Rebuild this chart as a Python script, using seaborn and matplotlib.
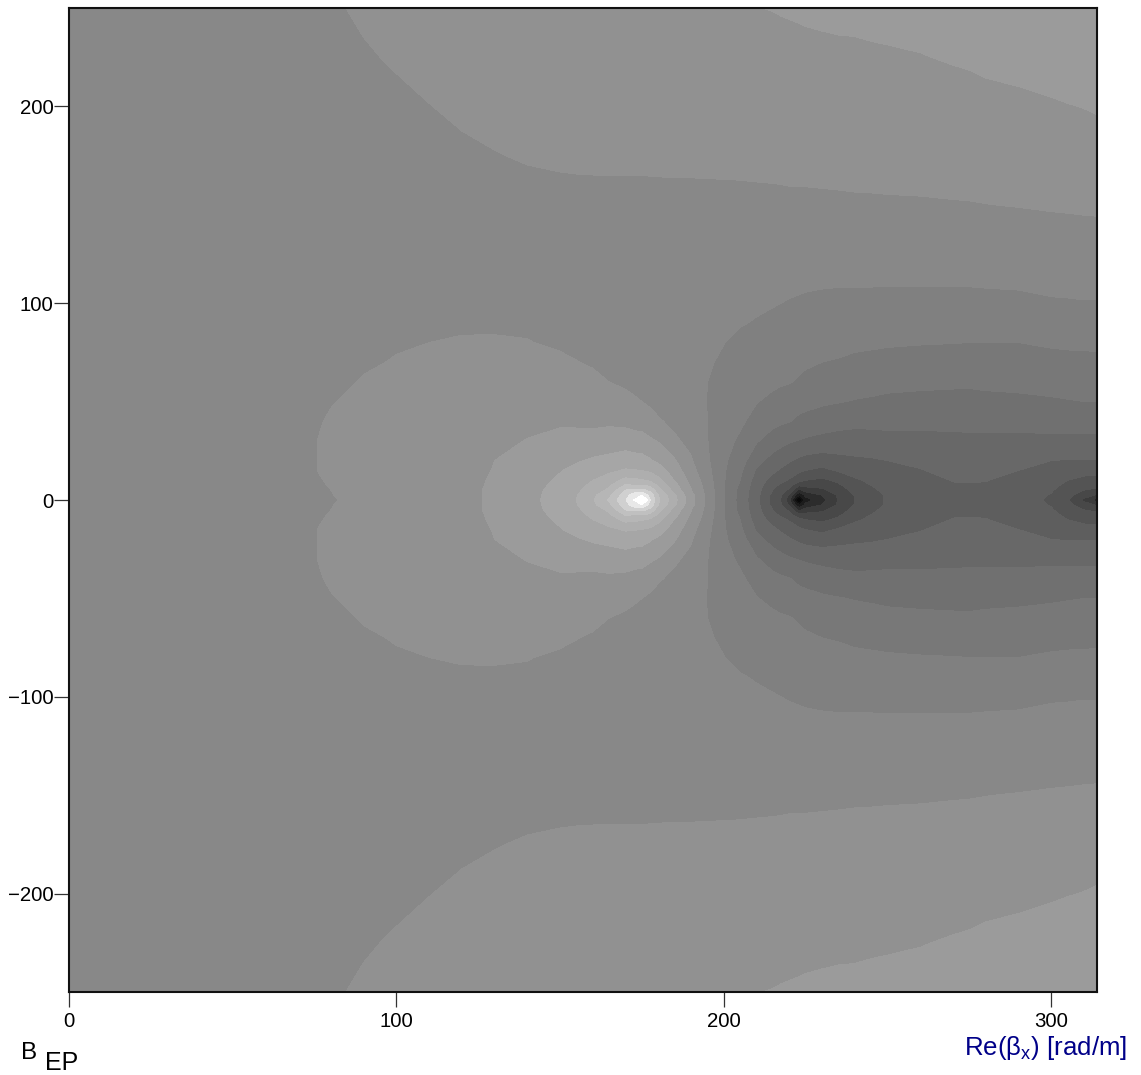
import numpy as np
import pandas as pd
import matplotlib
matplotlib.use("Agg")
import matplotlib.pyplot as plt
import seaborn as sns

# ---------------------------
# Data: band level per Re(beta) column, Im from 0 up to 250
# ---------------------------
im_beta = [0, 2.5, 5, 7.5, 10, 15, 20, 30, 40, 50, 60, 70, 80, 90, 100, 110, 125, 150, 175, 200, 225, 250]

g000 = [-.3, -.3, -.3, -.3, -.3, -.3, -.3, -.3, -.3, -.3, -.3, -.3, -.3, -.3, -.3, -.3, -.3, -.3, -.3, -.3, -.3, -.3]
g030 = [-.2, -.2, -.2, -.2, -.2, -.2, -.2, -.2, -.2, -.2, -.2, -.2, -.2, -.2, -.2, -.2, -.2, -.2, -.2, -.2, -.2, -.2]
g060 = [.05, .05, .05, .05, .05, .05, .05, .05, .05, .03, .02, 0, 0, 0, 0, 0, 0, 0, .02, .05, .1, .2]
g080 = [.45, .48, .5, .53, .56, .62, .62, .62, .56, .47, .32, .2, .15, .1, .1, .1, .1, .12, .15, .2, .3, .45]
g090 = [.69, .7, .72, .74, .75, .78, .8, .8, .72, .65, .55, .42, .35, .3, .27, .25, .25, .27, .3, .36, .46, .56]
g100 = [.89, .89, .9, .9, .91, .92, .92, .9, .84, .76, .66, .54, .44, .38, .33, .3, .27, .29, .33, .42, .54, .68]
g110 = [1.12, 1.12, 1.12, 1.12, 1.12, 1.1, 1.08, 1.0, .93, .83, .72, .6, .5, .42, .36, .32, .28, .3, .38, .49, .65, .8]
g120 = [1.34, 1.34, 1.34, 1.32, 1.3, 1.25, 1.2, 1.08, .98, .87, .75, .63, .53, .45, .38, .34, .29, .32, .42, .58, .75, .9]
g130 = [1.6, 1.6, 1.6, 1.58, 1.57, 1.53, 1.5, 1.3, 1.1, .95, .8, .67, .54, .44, .37, .33, .3, .36, .48, .66, .82, .96]
g140 = [2.18, 2.17, 2.15, 2.1, 2.05, 1.9, 1.75, 1.53, 1.3, 1.08, .88, .7, .52, .42, .35, .31, .3, .33, .54, .72, .9, 1.02]
g150 = [2.97, 2.93, 2.85, 2.76, 2.65, 2.45, 2.2, 1.75, 1.38, 1.1, .85, .6, .42, .34, .3, .27, .27, .3, .6, .78, .97, 1.1]
g155 = [3.5, 3.45, 3.3, 3.15, 3.0, 2.75, 2.4, 1.75, 1.37, 1.05, .78, .52, .33, .25, .2, .18, .18, .3, .62, .82, 1.0, 1.13]
g160 = [4.4, 4.25, 3.95, 3.72, 3.5, 3.0, 2.65, 1.75, 1.35, 1.0, .68, .42, .25, .15, .1, .08, .1, .3, .63, .85, 1.03, 1.15]
g165 = [5.6, 5.3, 4.7, 4.35, 4.0, 3.3, 2.8, 1.9, 1.35, .8, .5, .25, .08, -.02, -.05, -.03, .02, .3, .64, .88, 1.05, 1.18]
g170 = [7.4, 7.1, 6.5, 5.6, 4.8, 3.6, 3.0, 2.0, 1.25, .7, .38, .18, .02, -.08, -.12, -.1, -.02, .29, .64, .9, 1.08, 1.2]
g172 = [8.5, 8.0, 6.8, 5.5, 4.7, 3.55, 2.9, 1.9, 1.15, .6, .3, .1, -.05, -.13, -.17, -.15, -.03, .28, .65, .91, 1.09, 1.22]
g175 = [10.5, 8.5, 6.8, 5.5, 4.6, 3.5, 2.85, 1.85, 1.1, .5, .2, 0, -.1, -.17, -.2, -.2, -.05, .28, .65, .92, 1.1, 1.23]
g177 = [7.5, 7.1, 6.2, 5.3, 4.3, 3.3, 2.6, 1.65, .85, .35, .1, -.08, -.16, -.22, -.25, -.24, -.06, .29, .65, .92, 1.11, 1.24]
g180 = [5.7, 5.5, 4.9, 4.35, 3.8, 3.0, 2.3, 1.45, .6, .2, -.02, -.15, -.22, -.28, -.3, -.28, -.08, .3, .65, .93, 1.12, 1.25]
g185 = [3.8, 3.65, 3.1, 2.8, 2.45, 2.0, 1.6, .65, .28, .05, -.1, -.2, -.28, -.32, -.33, -.3, -.1, .32, .65, .95, 1.14, 1.28]
g190 = [1.85, 1.8, 1.55, 1.38, 1.2, .85, .6, .25, 0, -.12, -.22, -.28, -.33, -.37, -.37, -.33, -.12, .33, .64, .92, 1.12, 1.3]
g195 = [.25, .2, .15, .05, -.05, -.22, -.37, -.48, -.5, -.52, -.5, -.45, -.44, -.42, -.38, -.3, -.12, .34, .64, .9, 1.1, 1.32]
g200 = [-1.42, -1.42, -1.42, -1.42, -1.42, -1.38, -1.33, -1.09, -.95, -.8, -.68, -.57, -.49, -.42, -.36, -.28, -.13, .35, .64, .9, 1.1, 1.35]
g205 = [-2.87, -2.85, -2.8, -2.65, -2.5, -2.3, -2.05, -1.7, -1.3, -1.05, -.85, -.72, -.6, -.47, -.4, -.33, -.15, .36, .64, .92, 1.15, 1.42]
g210 = [-4.2, -4.18, -4.1, -4.05, -3.95, -3.6, -3.2, -2.4, -1.9, -1.45, -1.05, -.8, -.65, -.53, -.43, -.36, -.16, .37, .65, .93, 1.2, 1.49]
g215 = [-5.9, -5.8, -5.5, -5.2, -4.85, -4.3, -3.85, -3.0, -2.2, -1.75, -1.3, -1.0, -.8, -.6, -.47, -.38, -.18, .37, .67, .97, 1.24, 1.52]
g217 = [-6.55, -6.45, -6.1, -5.7, -5.25, -4.65, -4.1, -3.2, -2.35, -1.9, -1.38, -1.08, -.88, -.65, -.5, -.39, -.18, .38, .67, .97, 1.25, 1.55]
g220 = [-8.2, -7.6, -6.7, -6.1, -5.6, -4.95, -4.4, -3.4, -2.45, -2.0, -1.45, -1.15, -.95, -.7, -.53, -.4, -.18, .39, .68, .97, 1.27, 1.57]
g223 = [-13, -10.5, -8.8, -7.3, -6.2, -5.3, -4.7, -3.55, -2.7, -2.15, -1.6, -1.3, -1.0, -.8, -.56, -.42, -.2, .39, .69, 1.0, 1.28, 1.6]
g225 = [-10, -9.2, -8.1, -7.2, -6.5, -5.5, -4.85, -3.65, -2.8, -2.2, -1.75, -1.35, -1.05, -.85, -.6, -.42, -.2, .39, .69, 1.0, 1.3, 1.62]
g230 = [-8.9, -8.5, -7.7, -7.2, -6.7, -5.75, -5.0, -3.8, -3.0, -2.35, -1.9, -1.5, -1.15, -.95, -.68, -.43, -.2, .4, .7, 1.02, 1.33, 1.65]
g235 = [-7.45, -7.35, -7.0, -6.65, -6.3, -5.4, -4.8, -3.9, -3.15, -2.45, -2.0, -1.58, -1.2, -.95, -.7, -.45, -.2, .41, .71, 1.03, 1.36, 1.67]
g240 = [-6.5, -6.45, -6.2, -5.95, -5.65, -5.1, -4.65, -4.0, -3.2, -2.55, -2.1, -1.7, -1.3, -1.0, -.72, -.45, -.1, .42, .73, 1.05, 1.37, 1.68]
g245 = [-5.85, -5.8, -5.65, -5.5, -5.3, -4.95, -4.6, -3.95, -3.2, -2.6, -2.2, -1.75, -1.35, -1.05, -.73, -.45, -.11, .42, .75, 1.07, 1.4, 1.71]
g250 = [-5.4, -5.4, -5.3, -5.15, -5.0, -4.8, -4.5, -3.85, -3.2, -2.65, -2.3, -1.8, -1.4, -1.1, -.75, -.45, -.12, .43, .76, 1.09, 1.42, 1.74]
g260 = [-5.0, -4.98, -4.95, -4.88, -4.8, -4.55, -4.3, -3.8, -3.25, -2.75, -2.3, -1.85, -1.45, -1.1, -.75, -.45, -.1, .44, .78, 1.12, 1.47, 1.8]
g270 = [-4.72, -4.68, -4.63, -4.56, -4.47, -4.22, -4.02, -3.72, -3.25, -2.8, -2.33, -1.88, -1.48, -1.1, -.75, -.45, -.12, .46, .83, 1.19, 1.56, 1.9]
g275 = [-4.7, -4.67, -4.62, -4.55, -4.46, -4.2, -4.0, -3.7, -3.25, -2.8, -2.35, -1.9, -1.5, -1.1, -.75, -.45, -.12, .47, .85, 1.22, 1.6, 1.95]
g280 = [-4.75, -4.72, -4.66, -4.57, -4.47, -4.22, -4.0, -3.7, -3.22, -2.75, -2.3, -1.88, -1.5, -1.1, -.73, -.43, -.1, .49, .88, 1.27, 1.67, 2.0]
g290 = [-5.1, -5.05, -5.0, -4.9, -4.8, -4.5, -4.2, -3.75, -3.2, -2.7, -2.25, -1.85, -1.5, -1.1, -.7, -.4, -.05, .53, .92, 1.33, 1.75, 2.1]
g300 = [-5.65, -5.55, -5.42, -5.25, -5.1, -4.75, -4.5, -3.75, -3.05, -2.6, -2.2, -1.75, -1.4, -1.0, -.6, -.3, .0, .58, 1.0, 1.42, 1.85, 2.25]
g305 = [-6.4, -6.2, -5.95, -5.72, -5.5, -5.0, -4.55, -3.75, -3.05, -2.55, -2.15, -1.75, -1.35, -.95, -.58, -.28, .02, .6, 1.02, 1.47, 1.95, 2.35]
g310 = [-7.7, -7.1, -6.5, -6.1, -5.8, -5.1, -4.55, -3.75, -3.1, -2.5, -2.12, -1.72, -1.35, -.95, -.55, -.25, .05, .62, 1.07, 1.52, 2.0, 2.43]
g314 = [-9.0, -7.6, -6.7, -6.25, -5.9, -5.15, -4.55, -3.77, -3.1, -2.5, -2.1, -1.7, -1.33, -.94, -.55, -.27, .07, .63, 1.1, 1.58, 2.06, 2.5]

re_beta = [0, 30, 60, 80, 90, 100, 110, 120, 130, 140, 150, 155, 160, 165, 170, 172.5, 175, 177.5, 180, 185, 190, 195,
           200, 205, 210, 215, 217.5, 220, 223, 225, 230, 235, 240, 245, 250, 260, 270, 275, 280, 290, 300, 305, 310, 314]
columns = [g000, g030, g060, g080, g090, g100, g110, g120, g130, g140, g150, g155, g160, g165, g170, g172, g175, g177,
           g180, g185, g190, g195, g200, g205, g210, g215, g217, g220, g223, g225, g230, g235, g240, g245, g250,
           g260, g270, g275, g280, g290, g300, g305, g310, g314]

x_ticks = [0, 100, 200, 300]
y_ticks = [-200, -100, 0, 100, 200]

# one grey per band, darkest first
band_greys = ["#080808", "#080808", "#080808", "#101010", "#1c1c1c", "#2c2c2c", "#3c3c3c", "#484848", "#545454",
              "#5e5e5e", "#686868", "#707070", "#787878", "#808080", "#888888", "#919191", "#9b9b9b", "#a6a6a6",
              "#aeaeae", "#b6b6b6", "#c0c0c0", "#d0d0d0", "#e8e8e8", "#ffffff", "#ffffff", "#ffffff"]

# ---------------------------
# Table: the picture is mirrored about Im = 0
# ---------------------------
upper = pd.DataFrame(np.array(columns).T, index=im_beta, columns=re_beta)
lower = upper.iloc[1:].copy()
lower.index = -lower.index
field = pd.concat([lower, upper]).sort_index()

# ---------------------------
# Plot
# ---------------------------
sns.set_theme(style="ticks")
plt.rcParams['font.family'] = ['Liberation Sans', 'DejaVu Sans']
plt.rcParams['mathtext.fontset'] = 'custom'
plt.rcParams['mathtext.rm'] = 'Liberation Sans'

W, H = 1141, 1075
fig = plt.figure(figsize=(W / 100, H / 100), dpi=100)
ax = fig.add_axes([69 / W, 1 - 992 / H, (1097 - 69) / W, (992 - 8) / H])

levels = np.arange(-14.5, 12, 1.0)
ax.contourf(field.columns, field.index, field.values, levels=levels,
            colors=sns.color_palette(band_greys), antialiased=False)

ax.set_xlim(0, 314)
ax.set_ylim(-250, 250)
ax.set_xticks(x_ticks)
ax.set_yticks(y_ticks)
ax.tick_params(axis='both', length=10.5, width=0.9, color='#333333', labelsize=14.7,
               labelcolor='black')
ax.tick_params(axis='x', pad=4)
ax.tick_params(axis='y', pad=0.5)
for spine in ax.spines.values():
    spine.set_linewidth(1.5)
    spine.set_color('#111111')

fig.text(21 / W, 1 - 1059 / H, "B", fontsize=17.5, color='black', ha='left', va='baseline')
fig.text(45 / W, 1 - 1070 / H, "EP", fontsize=18, color='black', ha='left', va='baseline')
fig.text(1127 / W, 1 - 1055 / H, r"Re(β$_{\mathrm{x}}$) [rad/m]", fontsize=18.6, color='#000088',
         ha='right', va='baseline')

fig.savefig("out.png", dpi=100)
